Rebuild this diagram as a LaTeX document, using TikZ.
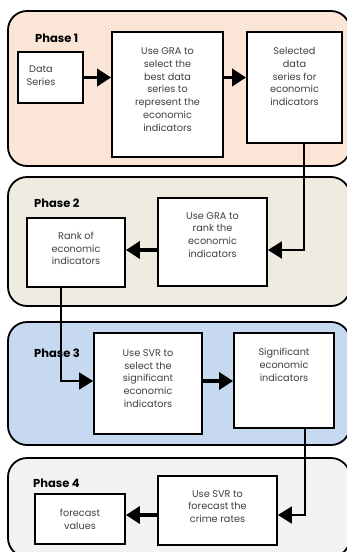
\documentclass[tikz,border=0pt]{standalone}
\usepackage{fontspec}
\setmainfont{Poppins}
\usetikzlibrary{arrows.meta}
\definecolor{pOne}{HTML}{FBE5D6}
\definecolor{pTwo}{HTML}{EEECE1}
\definecolor{pThree}{HTML}{C6D9F1}
\definecolor{pFour}{HTML}{F2F2F2}
\definecolor{txtgray}{HTML}{404040}
\tikzset{
  panel/.style={draw=black, line width=1.8pt, rounded corners=19pt},
  stepbox/.style={draw=black, fill=white, line width=1.8pt, inner sep=0pt},
  txt/.style={align=center, inner sep=0pt, text=txtgray,
    font=\fontsize{9.7}{12.8}\selectfont},
  phase/.style={anchor=west, inner sep=0pt, font=\fontsize{11.5}{13}\selectfont\bfseries},
  flow/.style={line width=3.6pt, -{Triangle[length=14pt,width=17pt]}},
  conn/.style={line width=1.7pt, -{Triangle[length=14pt,width=17pt]}},
}
% place a plain box from its corner coordinates (x1,y1) -- (x2,y2)
\newcommand{\plainbox}[5]{%
  \node[stepbox, minimum width={#4-#2}, minimum height={#5-#3}]
    (#1) at ({(#2+#4)/2},{(#3+#5)/2}) {};}
\begin{document}
\begin{tikzpicture}[x=1pt, y=-1pt]
\useasboundingbox (0,0) rectangle (347,552);
\begin{scope}
\clip (0,0) rectangle (347,552);

% phase panels
\draw[panel, fill=pOne]   (8,11)  rectangle (350,166);
\draw[panel, fill=pTwo]   (8,177) rectangle (350,306);
\draw[panel, fill=pThree] (8,322) rectangle (350,445);
\draw[panel, fill=pFour]  (8,458) rectangle (350,557);

% phase titles
\node[phase] (ph1) at (35,38)  {Phase 1};
\node[phase] (ph2) at (34,203) {Phase 2};
\node[phase] (ph3) at (34,353) {Phase 3};
\node[phase] (ph4) at (33,483) {Phase 4};

% phase 1
\plainbox{data}{18}{52}{83}{103}
\plainbox{gra1}{112}{32}{223}{157}
\plainbox{sel}{247}{32}{342}{143}
\node[txt] (tdata) at (41,76) {Data\\Series};
\node[txt] (tgra1) at (167.5,89.5) {Use GRA to\\select the\\best data\\series to\\represent the\\economic\\indicators};
\node[txt] (tsel) at (294.5,76.5) {Selected\\data\\series for\\economic\\indicators};

% phase 2
\plainbox{rank}{27}{218}{125}{287}
\plainbox{gra2}{158}{198}{267}{286}
\node[txt] (trank) at (76,248.5) {Rank of\\economic\\indicators};
\node[txt] (tgra2) at (212.5,235) {Use GRA to\\rank the\\economic\\indicators};

% phase 3
\plainbox{svr1}{94}{333}{202}{434}
\plainbox{sig}{234}{333}{334}{428}
\node[txt] (tsvr1) at (148,378.5) {Use SVR to\\select the\\significant\\economic\\indicators};
\node[txt] (tsig) at (284,365) {Significant\\economic\\indicators};

% phase 4
\plainbox{fc}{35}{494}{125}{544}
\plainbox{svr2}{158}{476}{277}{545}
\node[txt] (tfc) at (80,519) {forecast\\values};
\node[txt] (tsvr2) at (217.5,506.5) {Use SVR to\\forecast the\\crime rates};

% arrows within the phases
\draw[flow] (data.east) -- (gra1.west |- data.east);
\draw[flow] (gra1.east |- data.east) -- (sel.west |- data.east);
\coordinate (y2) at (0,250);
\draw[flow] (gra2.west |- y2) -- (rank.east |- y2);
\coordinate (y3) at (0,381);
\draw[flow] (svr1.east |- y3) -- (sig.west |- y3);
\coordinate (y4) at (0,515);
\draw[flow] (svr2.west |- y4) -- (fc.east |- y4);

% connectors between the phases
\coordinate (c1) at (304,0);
\coordinate (c2) at (61,0);
\coordinate (c3) at (305,0);
\draw[conn] (c1 |- sel.south) |- (gra2.east |- y2);
\draw[conn] (c2 |- rank.south) |- (svr1.west |- y3);
\draw[conn] (c3 |- sig.south) |- (svr2.east |- y4);
\end{scope}
\end{tikzpicture}
\end{document}
